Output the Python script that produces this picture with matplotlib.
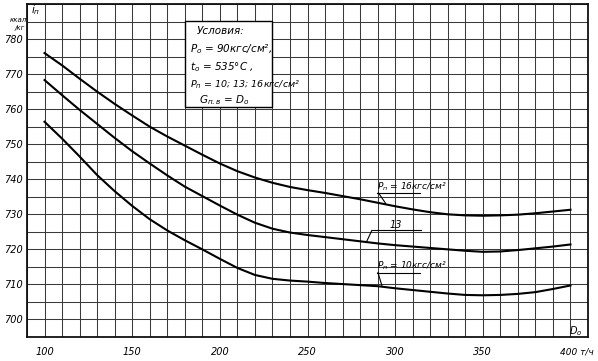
import numpy as np
import matplotlib
matplotlib.use("Agg")
import matplotlib.pyplot as plt
from matplotlib.patches import Rectangle

# ---- data ----
D0 = [100, 110, 120, 130, 140, 150, 160, 170, 180, 190, 200, 210, 220, 230, 240, 250,
      260, 270, 280, 290, 300, 310, 320, 330, 340, 350, 360, 370, 380, 390, 400]
i_p16 = [776.0, 772.5, 768.7, 765.0, 761.5, 758.2, 755.0, 752.2, 749.6, 747.0, 744.5,
         742.3, 740.5, 739.0, 737.8, 736.9, 736.1, 735.2, 734.3, 733.3, 732.3, 731.4,
         730.6, 730.0, 729.7, 729.6, 729.7, 729.9, 730.3, 730.8, 731.3]
i_p13 = [768.3, 764.0, 759.8, 755.8, 751.8, 748.0, 744.5, 741.1, 737.9, 735.2, 732.5,
         729.9, 727.6, 725.9, 724.8, 724.1, 723.5, 722.9, 722.3, 721.7, 721.2, 720.8,
         720.4, 720.0, 719.6, 719.3, 719.4, 719.8, 720.3, 720.8, 721.4]
i_p10 = [756.4, 751.6, 746.5, 741.2, 736.6, 732.4, 728.6, 725.4, 722.6, 720.0, 717.3,
         714.7, 712.7, 711.6, 711.1, 710.8, 710.4, 710.1, 709.8, 709.5, 708.9, 708.4,
         707.9, 707.4, 707.0, 706.9, 707.0, 707.3, 707.8, 708.7, 709.7]
x_ticks = [100, 150, 200, 250, 300, 350]
x_ticklabels = ["100", "150", "200", "250", "300", "350"]
y_ticks = [700, 710, 720, 730, 740, 750, 760, 770, 780]
y_ticklabels = ["700", "710", "720", "730", "740", "750", "760", "770", "780"]

plt.rcParams['font.family'] = ['DejaVu Sans']
fig = plt.figure(figsize=(5.98, 3.61), dpi=100)
ax = fig.add_axes([27/598, 1-337/361, (588-27)/598, (337-4)/361])
ax.set_xlim(90, 410)
ax.set_ylim(695, 790)

# grid
ax.set_xticks(np.arange(90, 411, 10), minor=True)
ax.set_yticks(np.arange(695, 791, 5), minor=True)
ax.set_xticks(x_ticks)
ax.set_xticklabels(x_ticklabels, fontsize=7, style='italic')
ax.set_yticks(y_ticks)
ax.set_yticklabels(y_ticklabels, fontsize=7, style='italic')
ax.tick_params(which='both', length=0)
ax.tick_params(axis='x', pad=7)
ax.tick_params(axis='y', pad=3)
ax.grid(which='both', color='#3a3a3a', linewidth=0.75)
ax.set_axisbelow(True)
for s in ax.spines.values():
    s.set_linewidth(1.3)
    s.set_color('#111111')

lw = 1.5
ax.plot(D0, i_p16, color='black', lw=lw)
ax.plot(D0, i_p13, color='black', lw=lw)
ax.plot(D0, i_p10, color='black', lw=lw)

# conditions box
ax.add_patch(Rectangle((180, 760.6), 50, 24.5, facecolor='white', edgecolor='black',
                       lw=1.0, zorder=3))
tk = dict(fontsize=7.5, style='italic', zorder=4, va='center')
ax.text(187, 782.2, "Условия:", **tk)
ax.text(183, 777.0, "$P_o$ = 90кгс/см²,", **tk)
ax.text(183, 772.0, "$t_o$ = 535°C ,", **tk)
ax.text(183, 767.0, "$P_п$ = 10; 13; 16кгс/см²", fontsize=6.8, style='italic', zorder=4, va='center')
ax.text(188, 762.5, "$G_{п.в}$ = $D_o$", **tk)

# curve labels
lk = dict(fontsize=6.5, style='italic', va='bottom', zorder=4)
ax.text(289.5, 736.2, "$P_п$ = 16кгс/см²", **lk)
ax.plot([289.5, 314], [736.1, 736.1], color='black', lw=0.8)
ax.plot([290.5, 294.6], [736.1, 733.1], color='black', lw=0.8)

ax.text(297, 725.5, "13", fontsize=7, style='italic', va='bottom', zorder=4)
ax.plot([286.7, 314.6], [725.4, 725.4], color='black', lw=0.8)
ax.plot([286.7, 283.8], [725.4, 722.3], color='black', lw=0.8)

ax.text(289.5, 713.5, "$P_п$ = 10кгс/см²", **lk)
ax.plot([289.5, 314], [713.4, 713.4], color='black', lw=0.8)
ax.plot([290.2, 292.4], [713.4, 709.7], color='black', lw=0.8)

# axis captions
ax.text(403, 696.8, "$D_o$", fontsize=7, style='italic', ha='center', va='center')
ax.text(92.5, 788.3, "$i_п$", fontsize=7.5, style='italic', ha='left', va='center')
fig.text(18/598, 1-20/361, "ккал", fontsize=5, style='italic', ha='center', va='center')
fig.text(20/598, 1-28/361, "/кг", fontsize=5, style='italic', ha='center', va='center')
fig.text(560/598, 1-352/361, "400 т/ч", fontsize=6.5, style='italic', ha='left', va='center')

fig.savefig("out.png", dpi=100)
